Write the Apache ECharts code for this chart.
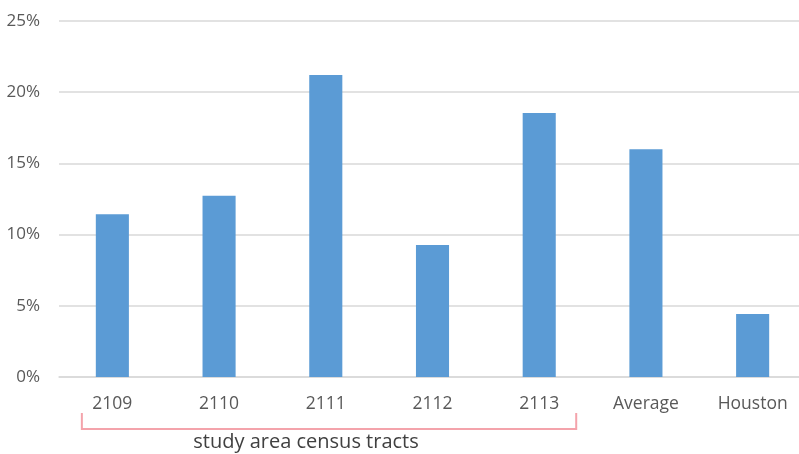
<!DOCTYPE html>
<html><head><meta charset="utf-8">
<script src="https://cdn.jsdelivr.net/npm/echarts@6/dist/echarts.min.js"></script>
<style>html,body{margin:0;padding:0;background:#fff}#c{width:799px;height:454px}</style>
</head><body><div id="c"></div>
<script>
const categories = ['2109','2110','2111','2112','2113','Average','Houston'];
const values = [11.43, 12.73, 21.2, 9.27, 18.54, 16.0, 4.42];
const bracketLabel = 'study area census tracts';
const bracketFrom = '2109', bracketTo = '2113';

const chart = echarts.init(document.getElementById('c'));
const font = '"Open Sans", sans-serif';
chart.setOption({
  animation: false,
  grid: {left: 59, width: 747, top: 21, bottom: 77, outerBoundsMode: 'none', containLabel: false},
  xAxis: {
    type: 'category', data: categories,
    axisLine: {lineStyle: {color: '#d9d9d9', width: 1.5}},
    axisTick: {show: false},
    axisLabel: {color: '#595959', fontSize: 17.5, fontFamily: font, margin: 18}
  },
  yAxis: {
    type: 'value', min: 0, max: 25, interval: 5,
    axisLabel: {formatter: '{value}%', color: '#595959', fontSize: 17, fontFamily: font, margin: 19},
    splitLine: {lineStyle: {color: '#d9d9d9', width: 1.5}},
    axisLine: {show: false}, axisTick: {show: false}
  },
  series: [{type: 'bar', data: values, barWidth: '31%', itemStyle: {color: '#5b9bd5'}}]
});
const x0 = chart.convertToPixel({xAxisIndex: 0}, bracketFrom);
const x1 = chart.convertToPixel({xAxisIndex: 0}, bracketTo);
const lx = x0 - 30.5, rx = x1 + 37;
chart.setOption({graphic: [
  {type: 'polyline', shape: {points: [[lx, 413], [lx, 429], [rx, 429], [rx, 413]]},
   style: {stroke: '#f4a3ab', lineWidth: 2, fill: null}},
  {type: 'text', x: (lx + rx) / 2 - 23, y: 442, style: {text: bracketLabel, fill: '#404040', font: '20px ' + font, align: 'center', verticalAlign: 'middle'}}
]});
</script></body></html>
